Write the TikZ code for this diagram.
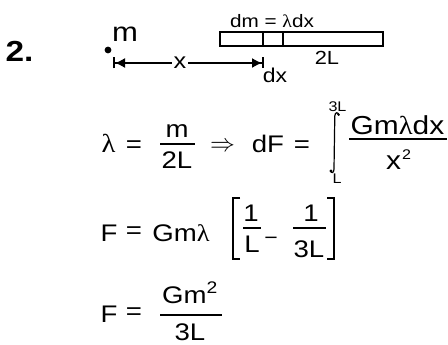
\documentclass[tikz,border=0pt]{standalone}
\usepackage{fontspec}
\setmainfont{Liberation Sans}[FakeStretch=1.15]
\newfontfamily\lamfont{Liberation Serif}[FakeStretch=1.1]
\newcommand{\lam}{{\lamfont λ}}
\usetikzlibrary{arrows.meta}
\tikzset{
  every node/.style={inner sep=0pt,outer sep=0pt},
  eq/.style={font=\fontsize{24}{28}\selectfont},
  sm/.style={font=\fontsize{14}{16}\selectfont},
  lbl/.style={font=\fontsize{19}{22}\selectfont},
  fbar/.style={line width=1.2pt},
  rodline/.style={line width=1.5pt},
  dimline/.style={line width=1.4pt,{Bar[width=11pt,line width=2pt] Latex[length=10pt,width=10pt]}-{Latex[length=10pt,width=10pt] Bar[width=11pt,line width=2pt]}},
}
\begin{document}
\begin{tikzpicture}[x=1pt,y=-1pt]
\useasboundingbox (0,0) rectangle (448,345);
% header
\node[anchor=base,font=\fontsize{29}{32}\selectfont\bfseries] (num) at (19.5,62) {2.};
\fill (108,50) circle (3.4pt);
\node[anchor=base,font=\fontsize{27}{30}\selectfont] (mass) at (125,42) {m};
% rod
\draw[rodline] (220,32) rectangle (383,46);
\coordinate (d1t) at (263,32); \coordinate (d1b) at (263,46);
\coordinate (d2t) at (283,32); \coordinate (d2b) at (283,46);
\draw[rodline] (d1t) -- (d1b);
\draw[rodline] (d2t) -- (d2b);
\node[anchor=base,font=\fontsize{18}{22}\selectfont] (dmlbl) at (272,28) {dm = \lam dx};
\node[anchor=base,lbl] (twoL) at (327,65) {2L};
\node[anchor=base,font=\fontsize{20}{24}\selectfont] (dxlbl) at (275,83) {dx};
% dimension x
\coordinate (aL) at (113,63);
\coordinate (aR) at (264,63);
\draw[dimline] (aL) -- (aR);
\node[anchor=base,fill=white,inner xsep=2pt,inner ysep=1pt,font=\fontsize{22}{24}\selectfont] (xl) at (180,69) {x};
% line 1
\node[anchor=base,font=\fontsize{26}{28}\selectfont] (lam1) at (108.5,153) {\lam};
\node[eq] (eq1) at (134,147) {=};
\node[anchor=base,eq] (m1) at (177,138) {m};
\draw[fbar] (160,144) -- (195,144);
\node[anchor=base,eq] (twoL1) at (177,168) {2L};
\node[font=\fontsize{24}{28}\selectfont] (imp) at (222.5,146.5) {$\Rightarrow$};
\node[anchor=base,eq] (dF) at (268,153) {dF};
\node[eq] (eq1b) at (302,147) {=};
\draw[line width=1.2pt] (339,115.5) .. controls (338.5,112) and (335,111.5) .. (334.8,116) -- (334,169) .. controls (334,173.5) and (331,173.5) .. (330.5,170.5);
\fill (331,171) circle (1.6pt);
\fill (338.5,114.5) circle (1.3pt);
\node[anchor=base,sm] (up) at (337.5,112) {3L};
\node[anchor=base,sm] (lo) at (337,183) {L};
\node[anchor=base,font=\fontsize{26}{28}\selectfont] (num1) at (397.5,135) {Gm\lam dx};
\draw[fbar] (349,139) -- (447,139);
\node[anchor=base,font=\fontsize{26}{28}\selectfont] (den1) at (393.5,170) {x};
\node[anchor=base,sm] (sq1) at (406.5,160) {2};
% line 2
\node[anchor=base,eq] (F2) at (109,241) {F};
\node[eq] (eq2) at (134,233) {=};
\node[anchor=base,eq] (gml) at (181,241) {Gm\lam};
\draw[line width=1.2pt] (240,198) -- (233,198) -- (233,259) -- (240,259);
\node[anchor=base,eq] (one1) at (251,222) {1};
\draw[fbar] (243,228) -- (261,228);
\node[anchor=base,eq] (L2) at (252,252) {L};
\node[font=\fontsize{20}{24}\selectfont] (minus) at (271,241) {−};
\node[anchor=base,eq] (one2) at (311,222) {1};
\draw[fbar] (293,228) -- (326,228);
\node[anchor=base,eq] (threeL2) at (309,257) {3L};
\draw[line width=1.2pt] (327,198) -- (334,198) -- (334,259) -- (327,259);
% line 3
\node[anchor=base,eq] (F3) at (109,322) {F};
\node[eq] (eq3) at (134,314) {=};
\node[anchor=base,eq] (gm2) at (190,303) {Gm\textsuperscript{2}};
\draw[fbar] (160,315) -- (222,315);
\node[anchor=base,eq] (threeL3) at (190,340) {3L};
\end{tikzpicture}
\end{document}
